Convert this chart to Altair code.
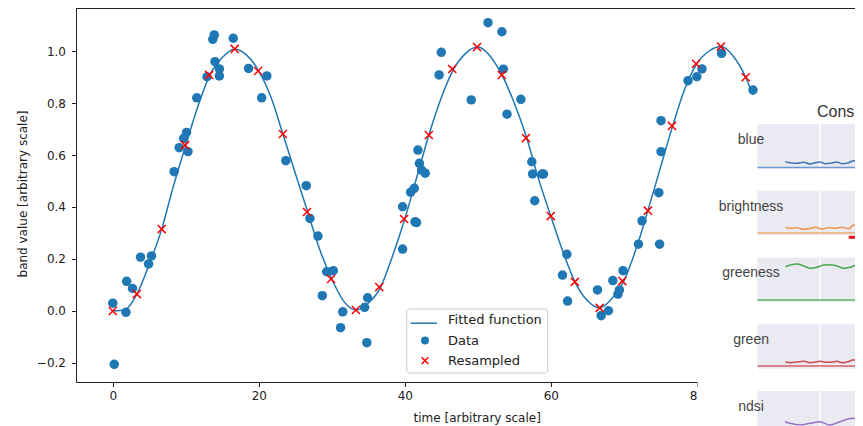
import altair as alt
import pandas as pd

# ---------------- main chart data ----------------
data_t = [0.0, 0.2, 1.8, 1.9, 2.7, 3.8, 4.9, 5.3, 8.4, 9.1, 9.7, 10.1, 10.3, 11.5, 12.9, 13.7, 13.9, 14.0,
          14.6, 14.6, 16.5, 18.6, 20.4, 21.1, 23.7, 26.5, 27.0, 28.1, 28.7, 29.3, 30.2, 31.2, 31.5, 34.5,
          34.8, 34.9, 39.7, 39.7, 40.8, 41.3, 41.4, 41.6, 41.8, 42.0, 42.3, 42.8, 44.7, 45.0, 49.1, 51.4,
          53.3, 53.5, 54.0, 55.9, 57.4, 57.5, 57.8, 58.8, 59.0, 61.6, 62.2, 62.3, 66.4, 66.9, 67.9, 68.5,
          69.2, 69.4, 69.9, 72.0, 72.5, 74.8, 74.9, 75.1, 75.1, 78.8, 80.0, 80.7, 83.4, 87.7]
data_v = [0.030, -0.205, -0.005, 0.114, 0.087, 0.207, 0.181, 0.212, 0.536, 0.628, 0.664, 0.687, 0.613,
          0.820, 0.901, 1.045, 1.062, 0.959, 0.931, 0.904, 1.049, 0.933, 0.820, 0.904, 0.578, 0.482,
          0.356, 0.288, 0.059, 0.151, 0.155, -0.064, -0.003, 0.014, -0.122, 0.051, 0.401, 0.238, 0.457,
          0.472, 0.343, 0.340, 0.619, 0.568, 0.542, 0.530, 0.908, 0.995, 0.812, 1.109, 1.074, 0.930,
          0.757, 0.814, 0.574, 0.527, 0.424, 0.527, 0.527, 0.138, 0.218, 0.038, 0.081, -0.018, 0.001,
          0.117, 0.065, 0.081, 0.155, 0.257, 0.347, 0.455, 0.257, 0.613, 0.732, 0.886, 0.901, 0.931,
          0.991, 0.850]

res_t = [0.0, 3.3, 6.7, 9.9, 13.2, 16.7, 19.9, 23.3, 26.6, 29.9, 33.3, 36.5, 39.9, 43.3, 46.5, 49.9,
         53.3, 56.6, 60.0, 63.3, 66.7, 69.8, 73.3, 76.6, 79.9, 83.3, 86.7]
res_v = [0.0, 0.065, 0.315, 0.638, 0.908, 1.008, 0.923, 0.681, 0.381, 0.123, 0.004, 0.092, 0.354,
         0.677, 0.931, 1.015, 0.908, 0.665, 0.365, 0.112, 0.012, 0.115, 0.386, 0.712, 0.951, 1.017, 0.899]

fit_t = [0, 1.7, 3.3, 5.0, 6.7, 8.3, 10.0, 11.7, 13.3, 15.0, 16.7, 18.3, 20.0, 21.7, 23.3, 25.0, 26.7,
         28.3, 30.0, 31.7, 33.3, 35.0, 36.7, 38.3, 40.0, 41.7, 43.3, 45.0, 46.7, 48.3, 50.0, 51.7, 53.3,
         55.0, 56.7, 58.3, 60.0, 61.7, 63.3, 65.0, 66.7, 68.3, 70.0, 71.7, 73.3, 75.0, 76.7, 78.3, 80.0,
         81.7, 83.3, 85.0, 86.7, 88.3]
fit_v = [0.0, 0.005, 0.065, 0.18, 0.315, 0.48, 0.638, 0.79, 0.908, 0.975, 1.008, 0.985, 0.923, 0.82,
         0.681, 0.53, 0.381, 0.24, 0.123, 0.035, 0.004, 0.03, 0.092, 0.21, 0.354, 0.52, 0.677, 0.82,
         0.931, 0.99, 1.015, 0.98, 0.908, 0.80, 0.665, 0.51, 0.365, 0.225, 0.112, 0.04, 0.012, 0.045,
         0.115, 0.24, 0.386, 0.55, 0.712, 0.85, 0.951, 1.0, 1.017, 0.98, 0.899, 0.78]

series = ["Fitted function", "Data", "Resampled"]
LINE_C, DOT_C, RES_C = "#1f77b4", "#1f77b4", "#ff0000"
CROSS = "M-0.9,-0.9L0.9,0.9M-0.9,0.9L0.9,-0.9"

x_ticks = [0, 20, 40, 60, 80, 100]
y_ticks = [-0.2, 0.0, 0.2, 0.4, 0.6, 0.8, 1.0]

# ---------------- inset (cropped second figure) data ----------------
inset_title = "Cons"
panel_names = ["blue", "brightness", "greeness", "green", "ndsi"]
panel_colors = ["#3f78b8", "#ee9550", "#4aa84f", "#d0494c", "#9a72c8"]
flat_colors = ["#6a9bd2", "#f0a868", "#5cb660", "#d85f62", "#a989d2"]
flat_vals = [0.025, 0.053, 0.045, 0.062, 0.05]
wave_x = [
    [0.1, 1.8, 4.1, 6.4, 8.6, 10.3, 12.0, 13.7, 16.0, 17.7, 19.4, 21.7, 23.4, 25.1, 26.6],
    [0.1, 1.8, 4.1, 6.4, 8.6, 10.3, 12.6, 14.9, 17.2, 19.4, 21.7, 23.4, 25.1, 26.6],
    [0.1, 1.8, 4.1, 6.4, 8.6, 10.9, 13.2, 15.4, 17.7, 20.0, 22.3, 24.5, 26.6],
    [0.1, 1.8, 4.1, 6.4, 8.6, 10.3, 12.0, 13.7, 16.0, 17.7, 19.4, 21.7, 23.4, 25.1, 26.6],
    [0.0, 1.7, 5.1, 8.5, 11.9, 15.3, 18.7, 23.2, 26.5],
]
wave_v = [
    [0.153, 0.130, 0.117, 0.139, 0.101, 0.130, 0.146, 0.108, 0.124, 0.146, 0.108, 0.130, 0.175, 0.117, 0.130],
    [0.179, 0.156, 0.170, 0.134, 0.156, 0.179, 0.140, 0.170, 0.156, 0.179, 0.147, 0.230, 0.156, 0.179],
    [0.793, 0.831, 0.854, 0.809, 0.757, 0.780, 0.831, 0.838, 0.809, 0.757, 0.780, 0.831, 0.816],
    [0.158, 0.136, 0.152, 0.167, 0.136, 0.152, 0.167, 0.145, 0.152, 0.167, 0.136, 0.163, 0.203, 0.145, 0.158],
    [0.310, 0.274, 0.236, 0.274, 0.310, 0.236, 0.310, 0.387, 0.310],
]
flag_x = [21.7, 26.3]
flag_x2 = [25.1, 27.5]
flag_v = [-0.046, -0.046]
grid_x = 12
inset_x_domain = [-9.4, 27.0]

# ---------------- layout (pixels) ----------------
W, H = 779, 374
PAD_L, PAD_B = 68, 44
inset_x_range = [681.5, 788.2]
panel_tops = [116, 182.75, 249.5, 316.25, 383]
panel_h = 44.5
legend_rows = [302.2, 362.8]
FONT = "DejaVu Sans"
INK = "#222222"

xsc = alt.Scale(domain=[-5.04, -5.04 + W / 7.3], nice=False, zero=False)
ysc = alt.Scale(domain=[-0.2731, 1.1654], nice=False, zero=False)

fit_df = pd.DataFrame({"t": fit_t, "v": fit_v})
dat_df = pd.DataFrame({"t": data_t, "v": data_v})
res_df = pd.DataFrame({"t": res_t, "v": res_v})

x_bottom = alt.Axis(values=x_ticks, format="d", title="time [arbitrary scale]", grid=False,
                    orient="bottom",
                    domainColor=INK, tickColor=INK, tickSize=4.5, labelPadding=4,
                    labelFontSize=12, labelColor=INK, labelFont=FONT,
                    titleFontSize=12, titleColor=INK, titleFont=FONT, titleFontWeight="normal",
                    titleX=400.7, titleY=35, titleBaseline="middle")
y_left = alt.Axis(values=y_ticks, format=".1f", title="band value [arbitrary scale]", grid=False,
                  orient="left",
                  domainColor=INK, tickColor=INK, tickSize=4.5, labelPadding=6,
                  labelFontSize=12, labelColor=INK, labelFont=FONT,
                  titleFontSize=12, titleColor=INK, titleFont=FONT, titleFontWeight="normal",
                  titleX=-54, titleY=185.5, titleBaseline="middle")

layers = []

curve = alt.Chart(fit_df).mark_line(strokeWidth=1.5, interpolate="monotone", color=LINE_C).encode(
    x=alt.X("t:Q", scale=xsc, axis=x_bottom),
    y=alt.Y("v:Q", scale=ysc, axis=y_left))
dots = alt.Chart(dat_df).mark_point(filled=True, size=90, opacity=1, strokeWidth=0,
                                    shape="circle", color=DOT_C).encode(
    x=alt.X("t:Q", scale=xsc, axis=None),
    y=alt.Y("v:Q", scale=ysc, axis=None))
cross = alt.Chart(res_df).mark_point(filled=False, size=80, strokeWidth=1.5, opacity=1,
                                     shape=CROSS, color=RES_C).encode(
    x=alt.X("t:Q", scale=xsc, axis=None),
    y=alt.Y("v:Q", scale=ysc, axis=None))
# top spine of the axes frame
top_spine = alt.Chart(pd.DataFrame({"a": [0]})).mark_rule(color=INK, strokeWidth=1).encode(
    x=alt.value(0), x2=alt.value(W), y=alt.value(0.5))
layers += [dots, curve, cross, top_spine]

# legend (drawn as marks; rows on a point scale)
leg_df = pd.DataFrame({"series": series})
ly = alt.Scale(domain=series, range=legend_rows, padding=0.5)
leg_box = alt.Chart(pd.DataFrame({"a": [0]})).mark_rect(
    fill="white", fillOpacity=0.8, stroke="#cccccc", strokeWidth=1, cornerRadius=3).encode(
    x=alt.value(330.7), x2=alt.value(471.7), y=alt.value(301), y2=alt.value(365))
leg_line = alt.Chart(leg_df).transform_filter(alt.datum.series == series[0]).mark_rule(
    color=LINE_C, strokeWidth=1.5).encode(
    x=alt.value(334.7), x2=alt.value(361), y=alt.Y("series:N", scale=ly, axis=None))
leg_dot = alt.Chart(leg_df).transform_filter(alt.datum.series == series[1]).mark_point(
    filled=True, size=64, opacity=1, shape="circle", color=DOT_C).encode(
    x=alt.value(349), y=alt.Y("series:N", scale=ly, axis=None))
leg_cross = alt.Chart(leg_df).transform_filter(alt.datum.series == series[2]).mark_point(
    filled=False, size=56, strokeWidth=1.5, opacity=1, shape=CROSS, color=RES_C).encode(
    x=alt.value(349), y=alt.Y("series:N", scale=ly, axis=None))
leg_text = alt.Chart(leg_df).mark_text(
    font=FONT, fontSize=13, color=INK, align="left", baseline="middle").encode(
    x=alt.value(372), y=alt.Y("series:N", scale=ly, axis=None), text="series:N")
layers += [leg_box, leg_line, leg_dot, leg_cross, leg_text]

# white area of the pasted inset
mask = alt.Chart(pd.DataFrame({"a": [0]})).mark_rect(color="white").encode(
    x=alt.value(621.5), x2=alt.value(800), y=alt.value(87), y2=alt.value(440))
layers.append(mask)

ixsc = alt.Scale(domain=inset_x_domain, range=inset_x_range, nice=False, zero=False)
for k, name in enumerate(panel_names):
    top = panel_tops[k]
    iysc = alt.Scale(domain=[0, 1], range=[top + panel_h, top], nice=False, zero=False)
    bg = alt.Chart(pd.DataFrame({"x0": [inset_x_domain[0]], "x1": [inset_x_domain[1]],
                                 "y0": [0], "y1": [1]})).mark_rect(color="#eaeaf2").encode(
        x=alt.X("x0:Q", scale=ixsc, axis=None), x2="x1:Q",
        y=alt.Y("y0:Q", scale=iysc, axis=None), y2="y1:Q")
    grid = alt.Chart(pd.DataFrame({"x": [grid_x], "y0": [0], "y1": [1]})).mark_rule(
        color="white", strokeWidth=1.5).encode(
        x=alt.X("x:Q", scale=ixsc, axis=None),
        y=alt.Y("y0:Q", scale=iysc, axis=None), y2="y1:Q")
    flat = alt.Chart(pd.DataFrame({"x": inset_x_domain, "y": [flat_vals[k]] * 2})).mark_line(
        color=flat_colors[k], strokeWidth=1.5).encode(
        x=alt.X("x:Q", scale=ixsc, axis=None), y=alt.Y("y:Q", scale=iysc, axis=None))
    wave = alt.Chart(pd.DataFrame({"x": wave_x[k], "y": wave_v[k]})).mark_line(
        color=panel_colors[k], strokeWidth=1.6, interpolate="monotone").encode(
        x=alt.X("x:Q", scale=ixsc, axis=None), y=alt.Y("y:Q", scale=iysc, axis=None))
    label = alt.Chart(pd.DataFrame({"x": [-11.6], "y": [0.5], "name": [name]})).mark_text(
        font="Liberation Sans", fontSize=14, color="#444444", align="center", baseline="middle",
        dy=-6.5).encode(
        x=alt.X("x:Q", scale=ixsc, axis=None), y=alt.Y("y:Q", scale=iysc, axis=None), text="name:N")
    layers += [bg, grid, flat, wave]
    if name == "brightness":
        flags = alt.Chart(pd.DataFrame({"x": flag_x, "x2": flag_x2, "y": flag_v})).mark_rule(
            color="#e8141c", strokeWidth=3).encode(
            x=alt.X("x:Q", scale=ixsc, axis=None), x2="x2:Q",
            y=alt.Y("y:Q", scale=iysc, axis=None))
        layers.append(flags)
    layers.append(label)

title = alt.Chart(pd.DataFrame({"t": [inset_title]})).mark_text(
    font="Liberation Sans", fontSize=16, color="#333333", align="left", baseline="middle").encode(
    x=alt.value(741), y=alt.value(104), text="t:N")
layers.append(title)

chart = alt.layer(*layers).resolve_scale(
    x="independent", y="independent"
).properties(
    width=W, height=H,
    autosize=alt.AutoSizeParams(type="none"),
    padding={"left": PAD_L, "top": 0, "right": 0, "bottom": PAD_B},
).configure(font=FONT).configure_view(stroke="transparent")

chart.save("out.html", embed_options={"renderer": "svg", "actions": False})
